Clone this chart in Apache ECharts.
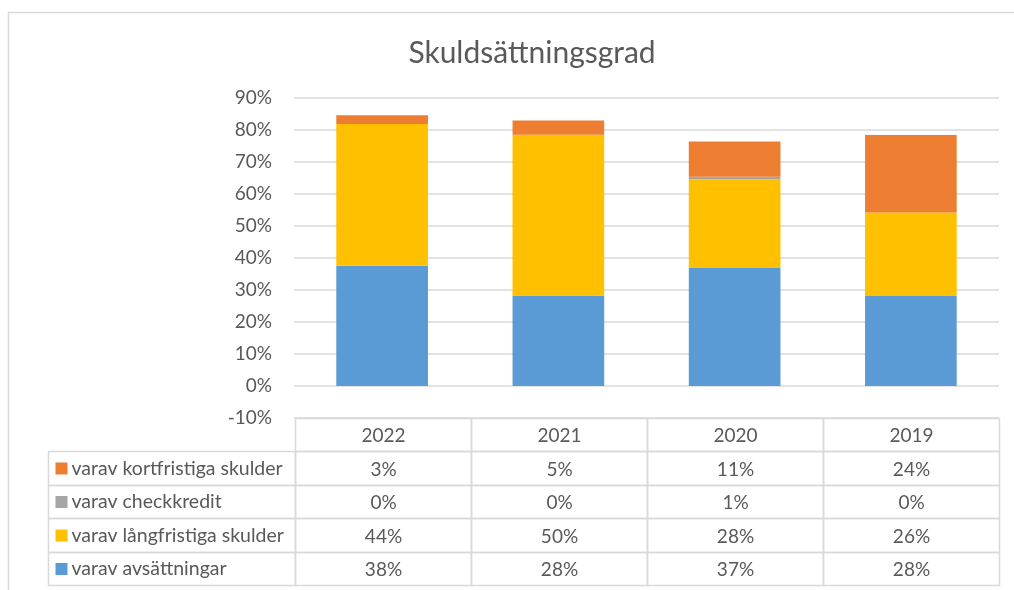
<!DOCTYPE html>
<html>
<head>
<meta charset="utf-8">
<script src="https://cdn.jsdelivr.net/npm/echarts@6/dist/echarts.min.js"></script>
<style>
html, body { margin: 0; padding: 0; background: #fff; }
#chart { width: 1014px; height: 590px; }
</style>
</head>
<body>
<div id="chart"></div>
<script>
// values in percent
var years = ['2022', '2021', '2020', '2019'];
var avsattningar = [37.6, 28.3, 36.9, 28.1];
var langfristiga = [44.3, 50.2, 27.6, 26.1];
var checkkredit = [0, 0, 0.9, 0];
var kortfristiga = [2.7, 4.5, 11.0, 24.2];
var yTicks = { min: -10, max: 90, interval: 10 };

var seriesList = [
    { name: 'varav avsättningar', data: avsattningar, color: '#5B9BD5' },
    { name: 'varav långfristiga skulder', data: langfristiga, color: '#FFC000' },
    { name: 'varav checkkredit', data: checkkredit, color: '#A5A5A5' },
    { name: 'varav kortfristiga skulder', data: kortfristiga, color: '#ED7D31' }
];

var textColor = '#595959';
var lineColor = '#d9d9d9';
var fontFamily = 'Lato, "Open Sans", sans-serif';

// data table cells: [col, row, width], label column sits left of 0
var labelColWidth = 1.4;
var cells = [];
for (var i = 0; i < years.length; i++) {
    cells.push({ value: [i, 0, 1], text: years[i] });
}
var tableOrder = seriesList.slice().reverse();
for (var r = 0; r < tableOrder.length; r++) {
    cells.push({ value: [-labelColWidth, r + 1, labelColWidth], text: tableOrder[r].name, color: tableOrder[r].color });
    for (var c = 0; c < years.length; c++) {
        cells.push({ value: [c, r + 1, 1], text: Math.round(tableOrder[r].data[c]) + '%' });
    }
}

function renderCell(params, api) {
    var cell = cells[params.dataIndex];
    var col = api.value(0), row = api.value(1), w = api.value(2);
    var p0 = api.coord([col, row]);
    var p1 = api.coord([col + w, row + 1]);
    var x0 = Math.round(p0[0]) + 0.5, y0 = Math.round(p0[1]) + 0.5;
    var x1 = Math.round(p1[0]) + 0.5, y1 = Math.round(p1[1]) + 0.5;
    var cy = (y0 + y1) / 2;
    var children = [{
        type: 'rect',
        shape: { x: x0, y: y0, width: x1 - x0, height: y1 - y0 },
        style: { fill: 'none', stroke: lineColor, lineWidth: 1.5 }
    }];
    if (cell.color) {
        children.push({
            type: 'rect',
            shape: { x: x0 + 7, y: cy - 6, width: 12, height: 12 },
            style: { fill: cell.color }
        });
        children.push({
            type: 'text',
            style: { x: x0 + 23, y: cy, text: cell.text, fill: textColor, font: '19.5px ' + fontFamily, textAlign: 'left', textVerticalAlign: 'middle' }
        });
    } else {
        children.push({
            type: 'text',
            style: { x: (x0 + x1) / 2, y: cy + 1, text: cell.text, fill: textColor, font: '19px ' + fontFamily, textAlign: 'center', textVerticalAlign: 'middle' }
        });
    }
    return { type: 'group', children: children };
}

var barSeries = seriesList.map(function (s) {
    return {
        name: s.name,
        type: 'bar',
        stack: 'total',
        xAxisIndex: 0,
        yAxisIndex: 0,
        barWidth: '52%',
        data: s.data,
        itemStyle: { color: s.color }
    };
});

var chart = echarts.init(document.getElementById('chart'));
var option = {
    backgroundColor: '#fff',
    animation: false,
    title: {
        text: 'Skuldsättningsgrad',
        left: 527,
        top: 33,
        textAlign: 'center',
        textStyle: { color: textColor, fontSize: 30, fontWeight: 'normal', fontFamily: fontFamily }
    },
    graphic: [{
        type: 'polyline',
        shape: { points: [[8.5, 600], [8.5, 12.5], [1014, 12.5]] },
        style: { fill: 'none', stroke: lineColor, lineWidth: 1.5 },
        silent: true
    }],
    grid: [
        { left: 294, right: 15, top: 98, height: 320 },
        { left: 48, right: 15, top: 418, height: 167 }
    ],
    xAxis: [
        {
            gridIndex: 0,
            type: 'category',
            data: years,
            boundaryGap: true,
            axisLine: { show: false },
            axisTick: { show: false },
            axisLabel: { show: false }
        },
        {
            gridIndex: 1,
            type: 'value',
            min: -labelColWidth,
            max: years.length,
            show: false
        }
    ],
    yAxis: [
        {
            gridIndex: 0,
            type: 'value',
            min: yTicks.min,
            max: yTicks.max,
            interval: yTicks.interval,
            axisLine: { show: false },
            axisTick: { show: false },
            axisLabel: {
                formatter: '{value}%',
                color: textColor,
                fontSize: 19,
                fontFamily: fontFamily,
                margin: 22
            },
            splitLine: { lineStyle: { color: lineColor, width: 1.5 } }
        },
        {
            gridIndex: 1,
            type: 'value',
            min: 0,
            max: 5,
            inverse: true,
            show: false
        }
    ],
    series: barSeries.concat([{
        type: 'custom',
        xAxisIndex: 1,
        yAxisIndex: 1,
        renderItem: renderCell,
        data: cells,
        silent: true
    }])
};
chart.setOption(option, true);
</script>
</body>
</html>
